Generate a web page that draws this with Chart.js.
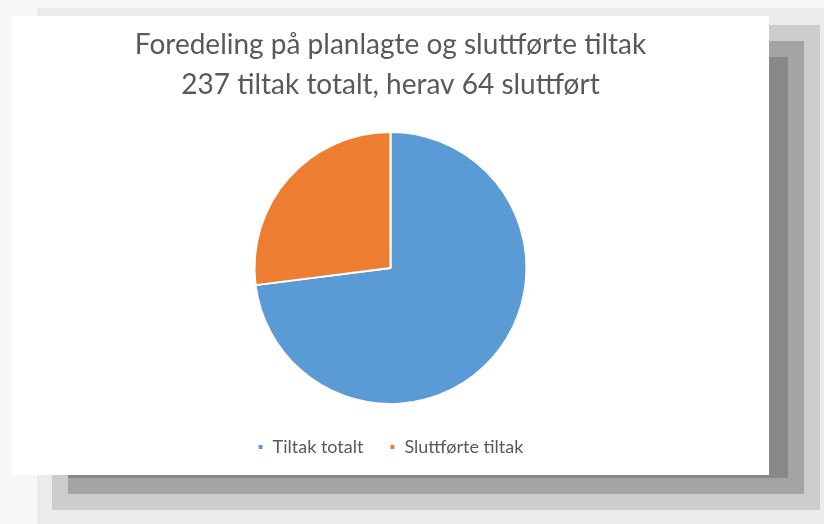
<!DOCTYPE html>
<html>
<head>
<meta charset="utf-8">
<script src="https://cdn.jsdelivr.net/npm/chart.js@4.4.0/dist/chart.umd.min.js"></script>
<style>
    html, body { margin: 0; padding: 0; }
    body { width: 824px; height: 524px; background: #f8f8f8; position: relative; overflow: hidden; }
    .shade { position: absolute; }
    #card { position: absolute; left: 12px; top: 16px; width: 757px; height: 459px; background: #fff; }
</style>
</head>
<body>
<!-- stepped drop shadow behind the card -->
<div class="shade" style="left:37px;top:8px;width:787px;height:516px;background:#ebebeb"></div>
<div class="shade" style="left:52px;top:25px;width:768px;height:485px;background:#cdcdcd"></div>
<div class="shade" style="left:68px;top:41px;width:736px;height:453px;background:#a4a4a4"></div>
<div class="shade" style="left:68px;top:57px;width:720px;height:421px;background:#888888"></div>
<div id="card"><canvas id="pieChart" width="757" height="459"></canvas></div>

<script>
const titleLines = ['Foredeling på planlagte og sluttførte tiltak', '237 tiltak totalt, herav 64 sluttført'];
const categories = ['Tiltak totalt', 'Sluttførte tiltak'];
const values = [173, 64];
const colors = ['#5b9bd5', '#ed7d31'];

new Chart(document.getElementById('pieChart'), {
    type: 'pie',
    data: {
        labels: categories,
        datasets: [{
            data: values,
            backgroundColor: colors,
            borderColor: '#ffffff',
            borderWidth: 2,
            radius: 136
        }]
    },
    options: {
        responsive: false,
        animation: false,
        layout: { padding: { top: 0, bottom: 9 } },
        plugins: {
            title: {
                display: true,
                text: titleLines,
                color: '#595959',
                font: { family: 'Lato', size: 28, weight: 'normal', lineHeight: 1.43 },
                padding: { top: 9, bottom: 19 }
            },
            legend: {
                position: 'bottom',
                labels: {
                    color: '#595959',
                    font: { family: 'Lato', size: 18 },
                    usePointStyle: true,
                    pointStyle: 'rect',
                    boxWidth: 6,
                    boxHeight: 6,
                    padding: 26
                }
            },
            tooltip: { enabled: false }
        }
    }
});
</script>
</body>
</html>
